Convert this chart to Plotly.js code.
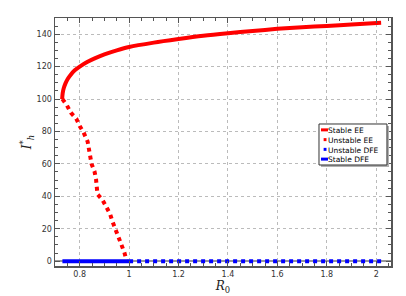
<!DOCTYPE html>
<html>
<head>
<meta charset="utf-8">
<script src="https://cdn.plot.ly/plotly-3.0.1.min.js"></script>
<style>html,body{margin:0;padding:0;background:#fff;}#chart{width:406px;height:296px;}</style>
</head>
<body>
<div id="chart"></div>
<script>
// Data
var stableEE_R0 = [0.729, 0.731, 0.735, 0.742, 0.752, 0.763, 0.78, 0.8, 0.83, 0.863, 0.9, 0.95, 1.0, 1.1, 1.2, 1.3, 1.4, 1.5, 1.6, 1.7, 1.8, 1.9, 2.02];
var stableEE_I  = [100, 103.5, 106.5, 109.5, 112.5, 114.9, 117.8, 120, 122.8, 125.2, 127.5, 130, 132.1, 134.8, 137, 139, 140.6, 142, 143.3, 144.3, 145.1, 146, 147.1];

var unstableEE_R0 = [0.73, 0.748, 0.764, 0.786, 0.80, 0.816, 0.832, 0.836, 0.848, 0.86, 0.866, 0.872, 0.892, 0.907, 0.923, 0.932, 0.945, 0.957, 0.967, 0.981, 0.99];
var unstableEE_I  = [100, 96.2, 91.6, 87.9, 83.4, 79.3, 73.8, 69.7, 60, 55.3, 50.6, 41.3, 37.8, 33.7, 29, 24.7, 19.7, 15.2, 10, 5.3, 0];

var unstableDFE_R0 = [1.0, 2.02];
var unstableDFE_I  = [0, 0];

var stableDFE_R0 = [0.73, 1.0];
var stableDFE_I  = [0, 0];

var seriesNames = ['Stable EE', 'Unstable EE', 'Unstable DFE', 'Stable DFE'];
var seriesColors = ['#ff0000', '#ff0000', '#0000ff', '#0000ff'];
var seriesSolid = [true, false, false, true];

var xTickVals = [0.8, 1.0, 1.2, 1.4, 1.6, 1.8, 2.0];
var xTickText = ['0.8', '1', '1.2', '1.4', '1.6', '1.8', '2'];
var yTickVals = [0, 20, 40, 60, 80, 100, 120, 140];

var traces = [
  {x: stableEE_R0, y: stableEE_I, name: seriesNames[0], mode: 'lines', line: {color: seriesColors[0], width: 4, shape: 'spline', smoothing: 0.8}},
  {x: unstableEE_R0, y: unstableEE_I, name: seriesNames[1], mode: 'lines', line: {color: seriesColors[1], width: 4, dash: '4px,4px'}},
  {x: unstableDFE_R0, y: unstableDFE_I, name: seriesNames[2], mode: 'lines', line: {color: seriesColors[2], width: 4, dash: '4px,4px'}},
  {x: stableDFE_R0, y: stableDFE_I, name: seriesNames[3], mode: 'lines', line: {color: seriesColors[3], width: 4}}
];

// Compact matplotlib-style legend built from shapes/annotation (paper coords)
var lgX0 = 0.7857, lgX1 = 0.988, lgYTop = 0.5726, lgYBot = 0.4073;
var lineStep = 0.0393; // one text line (7.5px * 1.3) in paper units
var lgMid = (lgYTop + lgYBot) / 2;
var shapes = [
  {type: 'rect', xref: 'paper', yref: 'paper', x0: lgX0 + 0.006, x1: lgX1 + 0.006, y0: lgYBot - 0.008, y1: lgYTop - 0.008,
   fillcolor: '#b0b0b0', line: {width: 0}, layer: 'above'},
  {type: 'rect', xref: 'paper', yref: 'paper', x0: lgX0, x1: lgX1, y0: lgYBot, y1: lgYTop,
   fillcolor: '#ffffff', line: {color: '#333', width: 1}, layer: 'above'}
];
for (var i = 0; i < seriesNames.length; i++) {
  var ry = lgMid + (1.5 - i) * lineStep;
  var sx0 = seriesSolid[i] ? 0.7917 : 0.7995;
  var sx1 = seriesSolid[i] ? 0.8125 : 0.8080;
  shapes.push({type: 'line', xref: 'paper', yref: 'paper', x0: sx0, x1: sx1, y0: ry, y1: ry,
    line: {color: seriesColors[i], width: 3}, layer: 'above'});
}
var annotations = [{
  xref: 'paper', yref: 'paper', x: 0.8155, y: lgMid, xanchor: 'left', yanchor: 'middle', align: 'left',
  text: seriesNames.join('<br>'), showarrow: false, borderpad: 0, borderwidth: 0,
  font: {family: 'DejaVu Sans', size: 7.5, color: '#000'}, xshift: -1, yshift: -1
}];

var axisCommon = {
  showline: true, linecolor: '#555', linewidth: 1.5, mirror: 'allticks',
  ticks: 'inside', ticklen: 5, tickwidth: 1, tickcolor: '#555',
  showgrid: true, gridcolor: '#bbb', griddash: 'dot', gridwidth: 1,
  tickfont: {family: 'DejaVu Sans', size: 8, color: '#333'}
};

var layout = {
  width: 406, height: 296,
  margin: {l: 55, r: 15, t: 18, b: 30},
  paper_bgcolor: '#fff', plot_bgcolor: '#fff',
  showlegend: false,
  shapes: shapes,
  annotations: annotations,
  xaxis: Object.assign({}, axisCommon, {
    range: [0.70, 2.06], tickvals: xTickVals, ticktext: xTickText,
    zeroline: false,
    minor: {dtick: 0.05, ticks: 'inside', ticklen: 3, tickcolor: '#555', showgrid: false},
    title: {text: '<i>R</i><sub>0</sub>', font: {family: 'DejaVu Serif', size: 12, color: '#222'}, standoff: 2}
  }),
  yaxis: Object.assign({}, axisCommon, {
    range: [-3, 150], tickvals: yTickVals,
    zeroline: true, zerolinecolor: '#999', zerolinewidth: 2,
    minor: {dtick: 5, ticks: 'inside', ticklen: 3, tickcolor: '#555', showgrid: false},
    title: {text: '<i>I</i><sup>*</sup><sub><i>h</i></sub>', font: {family: 'DejaVu Serif', size: 12, color: '#222'}, standoff: 2}
  })
};

Plotly.newPlot('chart', traces, layout, {displayModeBar: false, staticPlot: true});
</script>
</body>
</html>
